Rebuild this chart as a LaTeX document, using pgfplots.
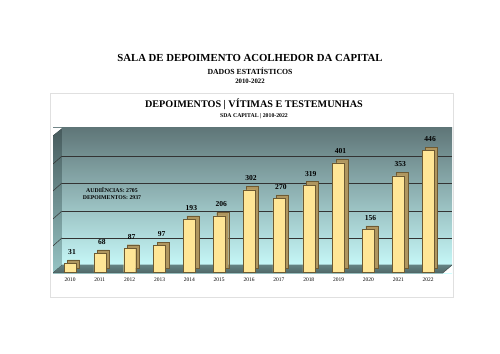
\documentclass[border=0pt]{standalone}
\usepackage{fontspec}
\setmainfont{Liberation Serif}
\usepackage{pgfplots}
\pgfplotsset{compat=1.18}
\definecolor{walltop}{RGB}{95,118,120}
\definecolor{wallbot}{RGB}{204,255,255}
\definecolor{lwtop}{RGB}{70,90,92}
\definecolor{lwbot}{RGB}{150,196,196}
\definecolor{floorc}{RGB}{100,130,130}
\definecolor{floord}{RGB}{80,105,105}
\definecolor{barfront}{RGB}{255,230,150}
\definecolor{barside}{RGB}{175,150,95}
\definecolor{baredge}{RGB}{110,90,50}
\begin{document}
\begin{tikzpicture}
\path[use as bounding box] (0,0) rectangle (500bp,-354bp);
\fill[white] (0,0) rectangle (500bp,-354bp);
\draw[black!12, line width=0.8bp] (50bp,-93bp) rectangle (453bp,-297bp);
\node[font=\bfseries\fontsize{10.8}{12}\selectfont] at (250bp,-58bp) {SALA DE DEPOIMENTO ACOLHEDOR DA CAPITAL};
\node[font=\bfseries\fontsize{7.8}{9}\selectfont] at (250bp,-71bp) {DADOS ESTATÍSTICOS};
\node[font=\bfseries\fontsize{6.8}{8}\selectfont] at (250bp,-81bp) {2010-2022};
\node[font=\bfseries\fontsize{10.2}{12}\selectfont] at (254bp,-104bp) {DEPOIMENTOS | VÍTIMAS E TESTEMUNHAS};
\node[font=\bfseries\fontsize{5.8}{7}\selectfont] at (254bp,-116bp) {SDA CAPITAL | 2010-2022};
\begin{axis}[
  at={(53bp,-273bp)}, anchor=south west, scale only axis,
  width=399bp, height=145bp,
  xmin=2009.43, xmax=2022.80, ymin=-4, ymax=529,
  /pgf/number format/assume math mode=true,
  axis line style={draw=none},
  major tick length=0pt,
  xtick={2010,2011,2012,2013,2014,2015,2016,2017,2018,2019,2020,2021,2022},
  xticklabels={2010,2011,2012,2013,2014,2015,2016,2017,2018,2019,2020,2021,2022},
  xticklabel style={font=\fontsize{5.5}{6}\selectfont, yshift=-1bp},
  ytick={125,224,327,426}, yticklabels={},
  ymajorgrids, grid style={black!80, line width=0.5bp},
  axis background/.style={shade, top color=walltop, bottom color=wallbot},
]
% left wall
\fill[top color=lwtop, bottom color=lwbot] (axis cs:2009.43,-4) -- (axis cs:2009.73,25.7) -- (axis cs:2009.73,529) -- (axis cs:2009.43,500) -- cycle;
\fill[white] (axis cs:2009.40,529) -- (axis cs:2009.73,529) -- (axis cs:2009.40,500) -- cycle;
\draw[black!80, line width=0.5bp] (axis cs:2009.73,125) -- (axis cs:2009.43,95.6);
\draw[black!80, line width=0.5bp] (axis cs:2009.73,224) -- (axis cs:2009.43,194.6);
\draw[black!80, line width=0.5bp] (axis cs:2009.73,327) -- (axis cs:2009.43,297.6);
\draw[black!80, line width=0.5bp] (axis cs:2009.73,426) -- (axis cs:2009.43,396.6);
% floor
\fill[top color=floorc, bottom color=floord] (axis cs:2009.43,-4) -- (axis cs:2022.495,-4) -- (axis cs:2022.80,25.7) -- (axis cs:2009.73,25.7) -- cycle;
\fill[white] (axis cs:2022.495,-4) -- (axis cs:2022.85,-4) -- (axis cs:2022.85,25.7) -- cycle;
\draw[black!70, line width=0.4bp] (axis cs:2009.43,-4) -- (axis cs:2022.495,-4) -- (axis cs:2022.80,25.7);
% bars: depth
\addplot[ybar, bar shift=0pt, bar width=12bp, fill=barside, draw=baredge, line width=0.3bp, xshift=3.5bp, yshift=3.5bp]
 coordinates {(2010,31) (2011,68) (2012,87) (2013,97) (2014,193) (2015,206) (2016,302) (2017,270) (2018,319) (2019,401) (2020,156) (2021,353) (2022,446)};
% bars: front
\addplot[ybar, bar shift=0pt, bar width=12bp, fill=barfront, draw=baredge, line width=0.3bp,
  nodes near coords,
  every node near coord/.append style={font=\bfseries\fontsize{7.6}{8}\selectfont, black, yshift=5.5bp, xshift=2bp}]
 coordinates {(2010,31) (2011,68) (2012,87) (2013,97) (2014,193) (2015,206) (2016,302) (2017,270) (2018,319) (2019,401) (2020,156) (2021,353) (2022,446)};
\end{axis}
\node[font=\bfseries\fontsize{5.8}{7}\selectfont, align=center] at (112bp,-194bp) {AUDIÊNCIAS: 2705\\DEPOIMENTOS: 2937};
\end{tikzpicture}
\end{document}
